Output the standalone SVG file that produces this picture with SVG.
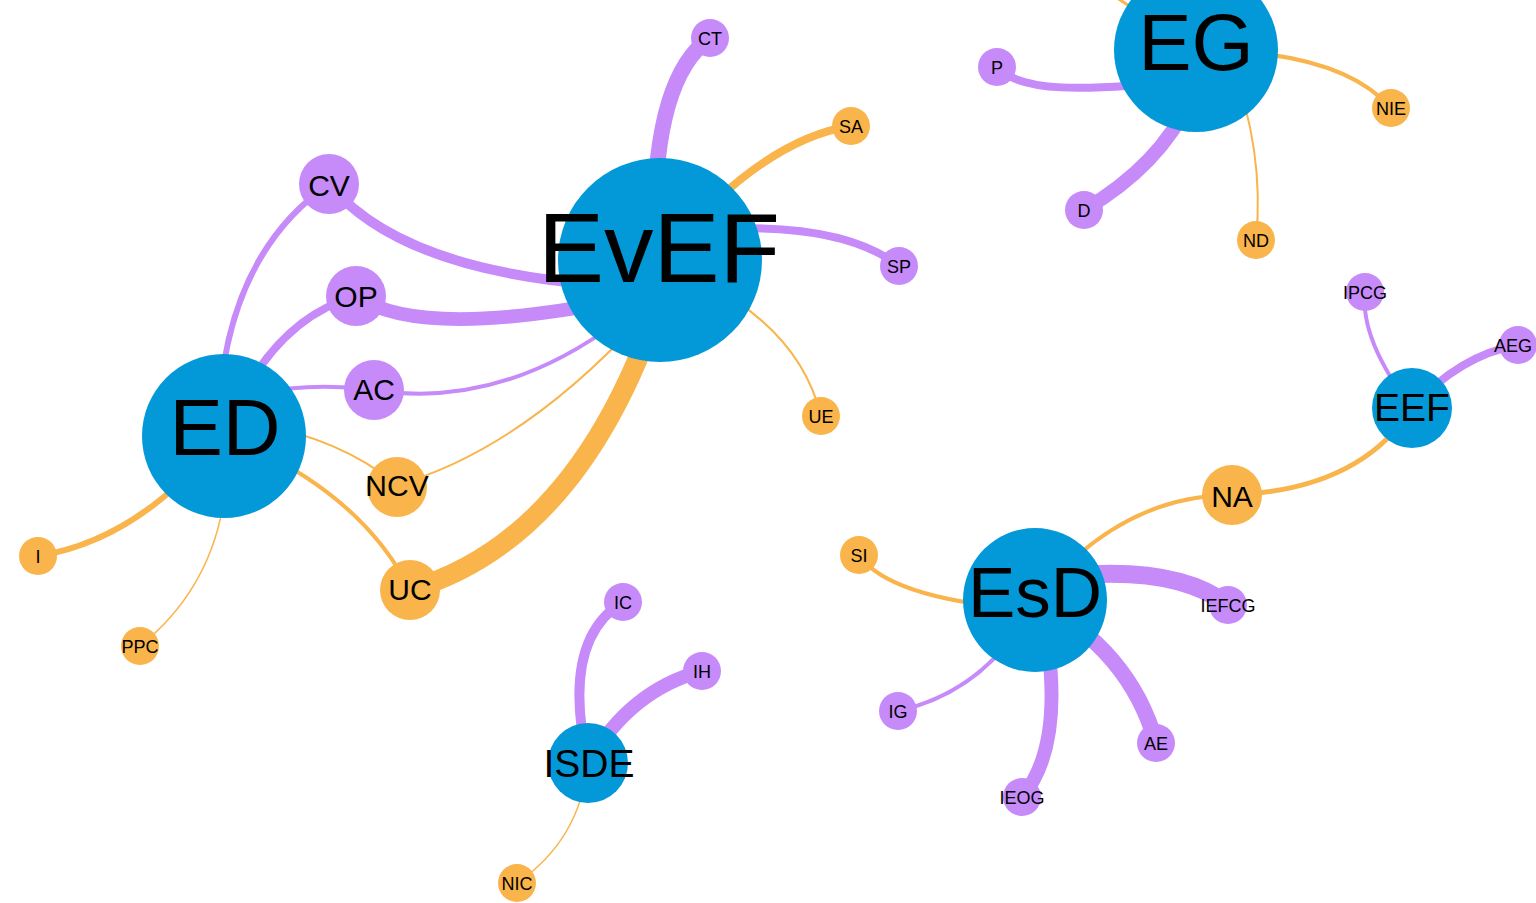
<svg xmlns="http://www.w3.org/2000/svg" width="1536" height="903" viewBox="0 0 1536 903">
<style>
.e{fill:none;stroke-linecap:round}
.p{stroke:#c68af9}
.o{stroke:#f9b44b}
.hub{fill:#0399d9}
.pn{fill:#c68af9}
.on{fill:#f9b44b}
text{font-family:"Liberation Sans",Arial,sans-serif;text-anchor:middle;fill:#000}
.s{font-size:18px}
.m{font-size:30px}
</style>
<rect width="1536" height="903" fill="#fff"/>
<g id="edges">
<path class="e o" stroke-width="3" d="M1196,50 L1102,-12"/>
<path class="e p" stroke-width="8" d="M997,67 C1020,92 1080,92 1196,80"/>
<path class="e p" stroke-width="14" d="M1084,210 Q1160,165 1190,100"/>
<path class="e o" stroke-width="4" d="M1196,50 Q1340,50 1391,108"/>
<path class="e o" stroke-width="2" d="M1230,60 Q1265,150 1256,240"/>
<path class="e p" stroke-width="16" d="M655,250 Q650,80 710,38"/>
<path class="e o" stroke-width="8" d="M660,260 Q760,140 851,126"/>
<path class="e p" stroke-width="8" d="M700,230 Q840,220 899,266"/>
<path class="e o" stroke-width="2" d="M700,280 Q800,330 821,416"/>
<path class="e p" stroke-width="6" d="M218,435 Q220,260 329,184"/>
<path class="e p" stroke-width="10" d="M329,184 Q400,270 600,285"/>
<path class="e p" stroke-width="8" d="M224,435 Q270,320 356,296"/>
<path class="e p" stroke-width="14" d="M356,296 Q420,340 620,300"/>
<path class="e p" stroke-width="4" d="M224,400 Q300,380 374,390"/>
<path class="e p" stroke-width="4" d="M374,390 Q500,410 620,320"/>
<path class="e o" stroke-width="2" d="M224,420 Q330,430 397,485"/>
<path class="e o" stroke-width="2" d="M397,485 Q520,450 640,320"/>
<path class="e o" stroke-width="4" d="M224,435 Q360,490 410,590"/>
<path class="e o" stroke-width="20" d="M410,590 Q580,540 660,300"/>
<path class="e o" stroke-width="6" d="M224,435 Q140,540 38,556"/>
<path class="e o" stroke-width="1.5" d="M224,500 Q210,590 140,646"/>
<path class="e o" stroke-width="4" d="M859,555 Q890,600 1035,610"/>
<path class="e o" stroke-width="4" d="M1035,600 Q1120,495 1232,495"/>
<path class="e o" stroke-width="5" d="M1232,495 Q1360,490 1412,408"/>
<path class="e p" stroke-width="4" d="M1412,408 Q1360,340 1365,292"/>
<path class="e p" stroke-width="8" d="M1412,408 Q1460,355 1518,345"/>
<path class="e p" stroke-width="18" d="M1035,580 Q1170,560 1228,605"/>
<path class="e p" stroke-width="16" d="M1035,600 Q1130,650 1156,743"/>
<path class="e p" stroke-width="14" d="M1040,600 Q1070,740 1022,797"/>
<path class="e p" stroke-width="4" d="M1035,600 Q990,690 898,711"/>
<path class="e p" stroke-width="10" d="M588,763 Q560,640 623,602"/>
<path class="e p" stroke-width="14" d="M588,763 Q630,690 702,671"/>
<path class="e o" stroke-width="1.5" d="M588,763 Q580,840 517,883"/>
</g>
<g id="EG"><circle class="hub" cx="1196" cy="50" r="82"/><text x="1196" y="70" font-size="80">EG</text></g>
<g id="P"><circle class="pn" cx="997" cy="67" r="19"/><text class="s" x="997" y="74">P</text></g>
<g id="D"><circle class="pn" cx="1084" cy="210" r="19"/><text class="s" x="1084" y="217">D</text></g>
<g id="NIE"><circle class="on" cx="1391" cy="108" r="19"/><text class="s" x="1391" y="115">NIE</text></g>
<g id="ND"><circle class="on" cx="1256" cy="240" r="19"/><text class="s" x="1256" y="247">ND</text></g>
<g id="EvEF"><circle class="hub" cx="660" cy="260" r="102"/><text x="659" y="282" font-size="99">EvEF</text></g>
<g id="CT"><circle class="pn" cx="710" cy="38" r="19"/><text class="s" x="710" y="45">CT</text></g>
<g id="SA"><circle class="on" cx="851" cy="126" r="19"/><text class="s" x="851" y="133">SA</text></g>
<g id="SP"><circle class="pn" cx="899" cy="266" r="19"/><text class="s" x="899" y="273">SP</text></g>
<g id="UE"><circle class="on" cx="821" cy="416" r="19"/><text class="s" x="821" y="423">UE</text></g>
<g id="ED"><circle class="hub" cx="224" cy="436" r="82"/><text x="225" y="455" font-size="80">ED</text></g>
<g id="CV"><circle class="pn" cx="329" cy="184" r="30"/><text class="m" x="329" y="196">CV</text></g>
<g id="OP"><circle class="pn" cx="356" cy="296" r="30"/><text class="m" x="356" y="307">OP</text></g>
<g id="AC"><circle class="pn" cx="374" cy="390" r="30"/><text class="m" x="374" y="400">AC</text></g>
<g id="NCV"><circle class="on" cx="397" cy="487" r="30"/><text class="m" x="397" y="496">NCV</text></g>
<g id="UC"><circle class="on" cx="410" cy="590" r="30"/><text class="m" x="410" y="600">UC</text></g>
<g id="I"><circle class="on" cx="38" cy="556" r="19"/><text class="s" x="38" y="563">I</text></g>
<g id="PPC"><circle class="on" cx="140" cy="646" r="19"/><text class="s" x="140" y="653">PPC</text></g>
<g id="EsD"><circle class="hub" cx="1035" cy="600" r="72"/><text x="1035" y="617" font-size="71">EsD</text></g>
<g id="SI"><circle class="on" cx="859" cy="555" r="19"/><text class="s" x="859" y="562">SI</text></g>
<g id="NA"><circle class="on" cx="1232" cy="495" r="30"/><text class="m" x="1232" y="507">NA</text></g>
<g id="EEF"><circle class="hub" cx="1412" cy="408" r="40"/><text x="1412" y="421" font-size="39">EEF</text></g>
<g id="IPCG"><circle class="pn" cx="1365" cy="292" r="19"/><text class="s" x="1365" y="299">IPCG</text></g>
<g id="AEG"><circle class="pn" cx="1518" cy="345" r="19"/><text class="s" x="1513" y="352">AEG</text></g>
<g id="IEFCG"><circle class="pn" cx="1228" cy="605" r="19"/><text class="s" x="1228" y="612">IEFCG</text></g>
<g id="AE"><circle class="pn" cx="1156" cy="743" r="19"/><text class="s" x="1156" y="750">AE</text></g>
<g id="IEOG"><circle class="pn" cx="1022" cy="797" r="19"/><text class="s" x="1022" y="804">IEOG</text></g>
<g id="IG"><circle class="pn" cx="898" cy="711" r="19"/><text class="s" x="898" y="718">IG</text></g>
<g id="ISDE"><circle class="hub" cx="588" cy="763" r="40"/><text x="589" y="777" font-size="39">ISDE</text></g>
<g id="IC"><circle class="pn" cx="623" cy="602" r="19"/><text class="s" x="623" y="609">IC</text></g>
<g id="IH"><circle class="pn" cx="702" cy="671" r="19"/><text class="s" x="702" y="678">IH</text></g>
<g id="NIC"><circle class="on" cx="517" cy="883" r="19"/><text class="s" x="517" y="890">NIC</text></g>
</svg>
